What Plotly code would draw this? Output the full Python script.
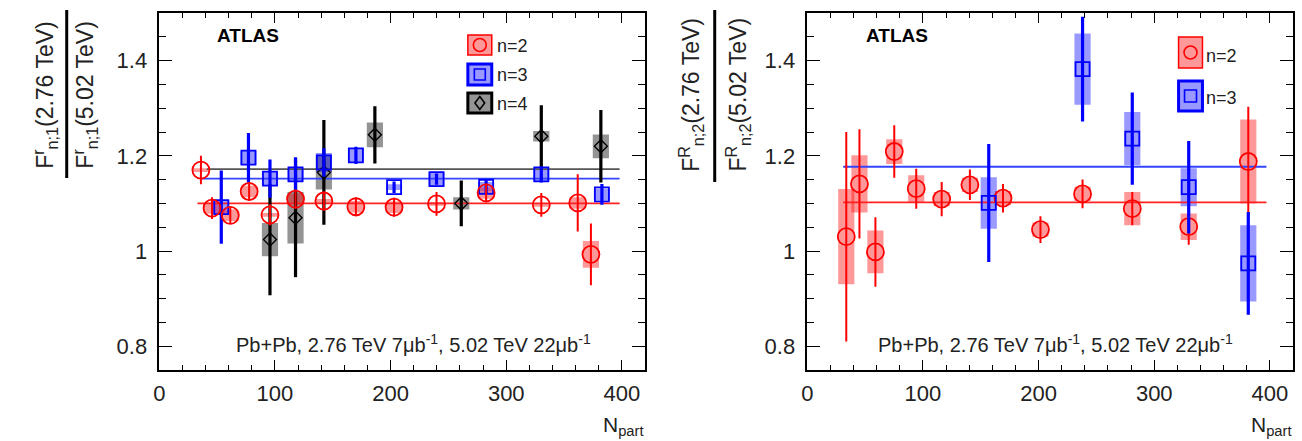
import plotly.graph_objects as go

W, H = 1302, 441

# ---------------- data ----------------
# Left panel: F^r_{n;1}(2.76)/F^r_{n;1}(5.02)
L_n2_x = [36, 45.6, 61.4, 77.7, 95.7, 117.8, 142.3, 170, 203, 239.7, 282.6, 330.3, 361.8, 373.2]
L_n2_y = [1.17, 1.09, 1.075, 1.125, 1.076, 1.109, 1.105, 1.093, 1.092, 1.099, 1.122, 1.097, 1.101, 0.993]
L_n2_stat = [0.03, 0.023, 0.017, 0.02, 0.022, 0.02, 0.02, 0.02, 0.02, 0.025, 0.02, 0.025, 0.06, 0.065]
L_n2_sys = [0.004, 0.012, 0.012, 0.012, 0.004, 0.012, 0.004, 0.012, 0.012, 0.004, 0.012, 0.004, 0.012, 0.028]

L_n3_x = [53.6, 77.1, 95.7, 117.8, 142.3, 170, 203, 239.7, 282.6, 330.3, 382.7]
L_n3_y = [1.092, 1.196, 1.152, 1.161, 1.186, 1.201, 1.134, 1.151, 1.135, 1.161, 1.119]
L_n3_stat = [0.077, 0.052, 0.04, 0.036, 0.03, 0.018, 0.012, 0.012, 0.014, 0.017, 0.022]
L_n3_sys = [0.015, 0.015, 0.015, 0.015, 0.02, 0.015, 0.006, 0.015, 0.01, 0.015, 0.012]

L_n4_x = [95.7, 117.8, 142.3, 186.4, 261.1, 330.3, 381.8]
L_n4_y = [1.024, 1.07, 1.165, 1.244, 1.1, 1.241, 1.22]
L_n4_stat = [0.117, 0.125, 0.11, 0.06, 0.048, 0.065, 0.076]
L_n4_sys = [0.035, 0.054, 0.036, 0.026, 0.013, 0.011, 0.025]

L_fit_n2_x, L_fit_n2 = [33, 398], 1.100
L_fit_n3_x, L_fit_n3 = [37, 398], 1.152
L_fit_n4_x, L_fit_n4 = [41, 398], 1.172

# Right panel: F^R_{n;2}(2.76)/F^R_{n;2}(5.02)
R_n2_x = [33.7, 45.1, 58.9, 75.2, 94.2, 116.2, 140.6, 169.2, 201.6, 238, 281, 329.8, 381.3]
R_n2_y = [1.03, 1.141, 0.998, 1.209, 1.131, 1.109, 1.139, 1.111, 1.045, 1.12, 1.089, 1.051, 1.188]
R_n2_stat = [0.22, 0.115, 0.073, 0.055, 0.042, 0.036, 0.032, 0.03, 0.028, 0.03, 0.035, 0.038, 0.115]
R_n2_sys = [0.1, 0.06, 0.045, 0.026, 0.028, 0.015, 0.015, 0.015, 0.015, 0.015, 0.035, 0.028, 0.088]

R_n3_x = [156.9, 238, 281, 329.8, 381.3]
R_n3_y = [1.101, 1.382, 1.236, 1.134, 0.974]
R_n3_stat = [0.124, 0.11, 0.097, 0.097, 0.108]
R_n3_sys = [0.054, 0.075, 0.056, 0.04, 0.08]

R_fit_n2_x, R_fit_n2 = [31, 397], 1.102
R_fit_n3_x, R_fit_n3 = [31, 397], 1.177

x_ticks = [0, 100, 200, 300, 400]
y_ticks = [0.8, 1.0, 1.2, 1.4]

# ---------------- styles ----------------
RED, BLUE, BLACK = "#ff0000", "#0000ff", "#000000"
RED_BOX, BLUE_BOX, GRAY_BOX = "rgba(255,0,0,0.40)", "rgba(0,0,255,0.40)", "rgba(0,0,0,0.42)"
FONT = "Liberation Sans, Arial, sans-serif"
BOXW = 14

fig = go.Figure()


def add_series(xs, ys, stat, sys, col, boxcol, symbol, size, ebw, mlw, ax):
    xa, ya = ("x", "y") if ax == 1 else ("x2", "y2")
    fig.add_trace(go.Bar(x=xs, y=[2 * s for s in sys], base=[y - s for y, s in zip(ys, sys)],
                         width=BOXW, marker=dict(color=boxcol, line=dict(width=0)),
                         xaxis=xa, yaxis=ya, showlegend=False, hoverinfo="skip"))
    return (xs, ys, stat, col, symbol, size, ebw, mlw, xa, ya)


def add_points(spec):
    xs, ys, stat, col, symbol, size, ebw, mlw, xa, ya = spec
    fig.add_trace(go.Scatter(x=xs, y=ys, mode="markers",
                             error_y=dict(type="data", array=stat, symmetric=True,
                                          color=col, thickness=ebw, width=0),
                             marker=dict(symbol=symbol, size=size, color=col,
                                         line=dict(color=col, width=mlw)),
                             xaxis=xa, yaxis=ya, showlegend=False))


def add_fit(xr, val, col, ax):
    xa, ya = ("x", "y") if ax == 1 else ("x2", "y2")
    fig.add_trace(go.Scatter(x=xr, y=[val, val], mode="lines",
                             line=dict(color=col, width=1.8),
                             xaxis=xa, yaxis=ya, showlegend=False, hoverinfo="skip"))


specs = []
specs.append(add_series(L_n4_x, L_n4_y, L_n4_stat, L_n4_sys, BLACK, GRAY_BOX, "diamond-open", 10, 3.2, 1.4, 1))
specs.append(add_series(L_n3_x, L_n3_y, L_n3_stat, L_n3_sys, BLUE, BLUE_BOX, "square-open", 14, 3.2, 1.8, 1))
specs.append(add_series(L_n2_x, L_n2_y, L_n2_stat, L_n2_sys, RED, RED_BOX, "circle-open", 17, 2, 1.8, 1))
specs.append(add_series(R_n2_x, R_n2_y, R_n2_stat, R_n2_sys, RED, RED_BOX, "circle-open", 17, 2, 1.8, 2))
specs.append(add_series(R_n3_x, R_n3_y, R_n3_stat, R_n3_sys, BLUE, BLUE_BOX, "square-open", 14, 3.2, 1.8, 2))

add_fit(L_fit_n4_x, L_fit_n4, "#555555", 1)
add_fit(L_fit_n3_x, L_fit_n3, "#3344ff", 1)
add_fit(L_fit_n2_x, L_fit_n2, "#ff2222", 1)
add_fit(R_fit_n2_x, R_fit_n2, "#ff2222", 2)
add_fit(R_fit_n3_x, R_fit_n3, "#3344ff", 2)

for s in specs:
    add_points(s)


def px(x):
    return x / W


def py(y):
    return 1 - y / H


TOP, BOT = 13, 370
L_DOM = [px(154), px(642)]
R_DOM = [px(805), px(1293)]

axis_common = dict(showline=True, linecolor="black", linewidth=1.5, mirror="ticks",
                   ticks="inside", tickcolor="black", tickwidth=1.3,
                   showgrid=False, zeroline=False,
                   tickfont=dict(family=FONT, size=22, color="#222"))
xcommon = dict(axis_common, range=[0, 420], tickvals=x_ticks, ticklen=10,
               minor=dict(dtick=20, tick0=0, ticks="inside", ticklen=5, tickcolor="black", tickwidth=1.2),
               ticklabelstandoff=3)
ycommon = dict(axis_common, range=[0.75, 1.5], tickvals=y_ticks, ticktext=["0.8", "1", "1.2", "1.4"],
               ticklen=13,
               minor=dict(dtick=0.05, tick0=0.75, ticks="inside", ticklen=7, tickcolor="black", tickwidth=1.2),
               ticklabelstandoff=6)

fig.update_layout(
    width=W, height=H, margin=dict(l=0, r=0, t=0, b=0),
    paper_bgcolor="white", plot_bgcolor="white",
    barmode="overlay", showlegend=False,
    xaxis=dict(xcommon, domain=L_DOM, anchor="y"),
    yaxis=dict(ycommon, domain=[py(BOT), py(TOP)], anchor="x"),
    xaxis2=dict(xcommon, domain=R_DOM, anchor="y2"),
    yaxis2=dict(ycommon, domain=[py(BOT), py(TOP)], anchor="x2"),
)

ann = []
shapes = []


def text(x, y, t, size, xanchor="left", angle=0, color="black", bold=False):
    ann.append(dict(x=px(x), y=py(y), xref="paper", yref="paper", text=(f"<b>{t}</b>" if bold else t),
                    showarrow=False, xanchor=xanchor, yanchor="middle", textangle=angle,
                    font=dict(family=FONT, size=size, color=color)))


# ATLAS labels
text(210, 36, "ATLAS", 19, bold=True)
text(862, 36, "ATLAS", 19, bold=True)
# luminosity labels
lum = "Pb+Pb, 2.76 TeV 7μb<sup>-1</sup>, 5.02 TeV 22μb<sup>-1</sup>"
text(409, 343, lum, 20, xanchor="center", color="#222")
text(1054, 343, lum, 20, xanchor="center", color="#222")
# x titles
text(642, 426, "N<sub>part</sub>", 21, xanchor="right", color="#222")
text(1293, 426, "N<sub>part</sub>", 21, xanchor="right", color="#222")
# y titles (fractions)
text(39, 95, "F<sup>r</sup><sub>n;1</sub>(2.76 TeV)", 23, xanchor="center", angle=-90, color="#222")
text(79, 95, "F<sup>r</sup><sub>n;1</sub>(5.02 TeV)", 23, xanchor="center", angle=-90, color="#222")
shapes.append(dict(type="line", xref="paper", yref="paper", x0=px(61), x1=px(61), y0=py(10), y1=py(178),
                   line=dict(color="black", width=3)))
text(688, 95, "F<sup>R</sup><sub>n;2</sub>(2.76 TeV)", 23, xanchor="center", angle=-90, color="#222")
text(735, 95, "F<sup>R</sup><sub>n;2</sub>(5.02 TeV)", 23, xanchor="center", angle=-90, color="#222")
shapes.append(dict(type="line", xref="paper", yref="paper", x0=px(712), x1=px(712), y0=py(10), y1=py(182),
                   line=dict(color="black", width=3)))


# legends
def leg_box(x0, y0, x1, y1, fill, line, lw):
    shapes.append(dict(type="rect", xref="paper", yref="paper", x0=px(x0), x1=px(x1), y0=py(y1), y1=py(y0),
                       fillcolor=fill, line=dict(color=line, width=lw)))


def leg_circle(cx, cy, r, col):
    shapes.append(dict(type="circle", xref="paper", yref="paper", x0=px(cx - r), x1=px(cx + r),
                       y0=py(cy + r), y1=py(cy - r), line=dict(color=col, width=1.6)))


def leg_square(cx, cy, r, col):
    shapes.append(dict(type="rect", xref="paper", yref="paper", x0=px(cx - r), x1=px(cx + r),
                       y0=py(cy + r), y1=py(cy - r), line=dict(color=col, width=1.6)))


def leg_diamond(cx, cy, r, col):
    path = (f"M {px(cx)},{py(cy - r)} L {px(cx + r * 0.75)},{py(cy)} L {px(cx)},{py(cy + r)} "
            f"L {px(cx - r * 0.75)},{py(cy)} Z")
    shapes.append(dict(type="path", xref="paper", yref="paper", path=path, line=dict(color=col, width=1.6)))


# left legend
leg_box(464, 35, 488, 55, RED_BOX, RED, 1.5)
leg_circle(476, 45, 6.5, RED)
text(491, 46, "n=2", 18, color="#222")
leg_box(464, 64, 488, 85, BLUE_BOX, BLUE, 3)
leg_square(476, 74.5, 5.5, BLUE)
text(491, 75, "n=3", 18, color="#222")
leg_box(464, 93, 488, 113, GRAY_BOX, BLACK, 3)
leg_diamond(476, 103, 6.5, BLACK)
text(491, 104, "n=4", 18, color="#222")
# right legend
leg_box(1178, 37, 1202, 68, RED_BOX, RED, 1.5)
leg_circle(1190, 52.5, 6.5, RED)
text(1204, 56, "n=2", 18, color="#222")
leg_box(1178, 81, 1202, 111, BLUE_BOX, BLUE, 3)
leg_square(1190, 96, 6, BLUE)
text(1204, 98, "n=3", 18, color="#222")

fig.update_layout(annotations=ann, shapes=shapes)
fig.write_html("out.html")
